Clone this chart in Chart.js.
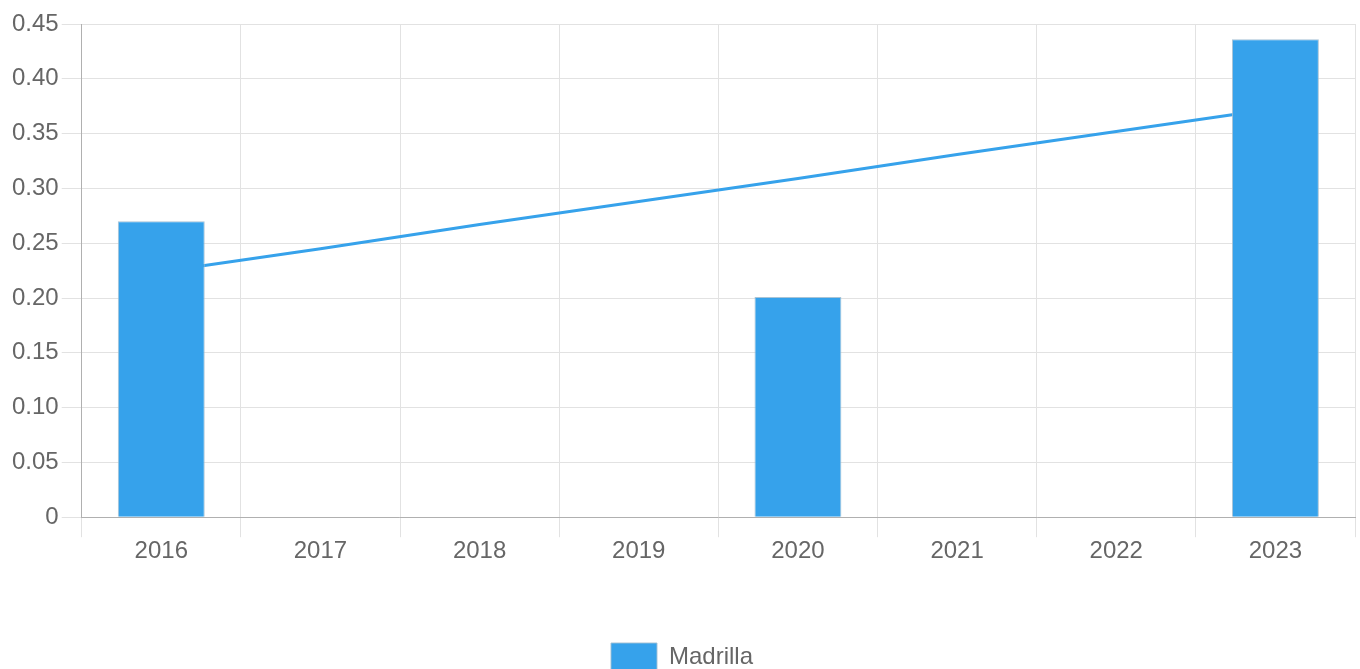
<!DOCTYPE html>
<html>
<head>
<meta charset="utf-8">
<script src="https://cdn.jsdelivr.net/npm/chart.js@4.4.1/dist/chart.umd.min.js"></script>
<style>
  html, body { margin: 0; padding: 0; background: #fff; overflow: hidden; }
  #wrap { width: 1360px; height: 681px; }
</style>
</head>
<body>
<div id="wrap"><canvas id="chart"></canvas></div>
<script>
// Categories and values
const years = ['2016', '2017', '2018', '2019', '2020', '2021', '2022', '2023'];
const madrilla = [0.27, null, null, null, 0.201, null, null, 0.436];
// trend line values (read at each year)
const trend = [0.224, 0.245, 0.267, 0.288, 0.309, 0.331, 0.352, 0.373];

const blue = '#36A2EB';

Chart.defaults.font.family = '"Liberation Sans", Arial, sans-serif';
Chart.defaults.font.size = 24;
Chart.defaults.color = '#666';

const ctx = document.getElementById('chart').getContext('2d');
new Chart(ctx, {
  type: 'bar',
  data: {
    labels: years,
    datasets: [{
      type: 'bar',
      label: 'Madrilla',
      data: madrilla,
      backgroundColor: blue,
      borderColor: 'rgba(160,190,210,0.9)',
      borderWidth: 1,
      categoryPercentage: 1,
      barPercentage: 0.546,
      order: 1
    }, {
      type: 'line',
      label: 'trend',
      data: trend,
      borderColor: blue,
      borderWidth: 3,
      pointRadius: 0,
      fill: false,
      tension: 0,
      order: 2
    }]
  },
  options: {
    responsive: true,
    maintainAspectRatio: false,
    animation: false,
    layout: { padding: { top: 24, right: 5, left: 9, bottom: 0 } },
    plugins: {
      tooltip: { enabled: false },
      legend: {
        position: 'bottom',
        labels: {
          boxWidth: 46,
          boxHeight: 28,
          padding: 77,
          filter: (item) => item.text === 'Madrilla'
        }
      }
    },
    scales: {
      x: {
        grid: { color: '#e2e2e2', offset: true, tickLength: 20 },
        border: { color: '#b0b0b0' },
        ticks: { padding: 0 }
      },
      y: {
        min: 0,
        max: 0.45,
        grid: { color: '#e2e2e2', tickLength: 20 },
        border: { color: '#b0b0b0' },
        ticks: {
          stepSize: 0.05,
          padding: 3,
          callback: (v) => v === 0 ? '0' : v.toFixed(2)
        }
      }
    }
  }
});
</script>
</body>
</html>
